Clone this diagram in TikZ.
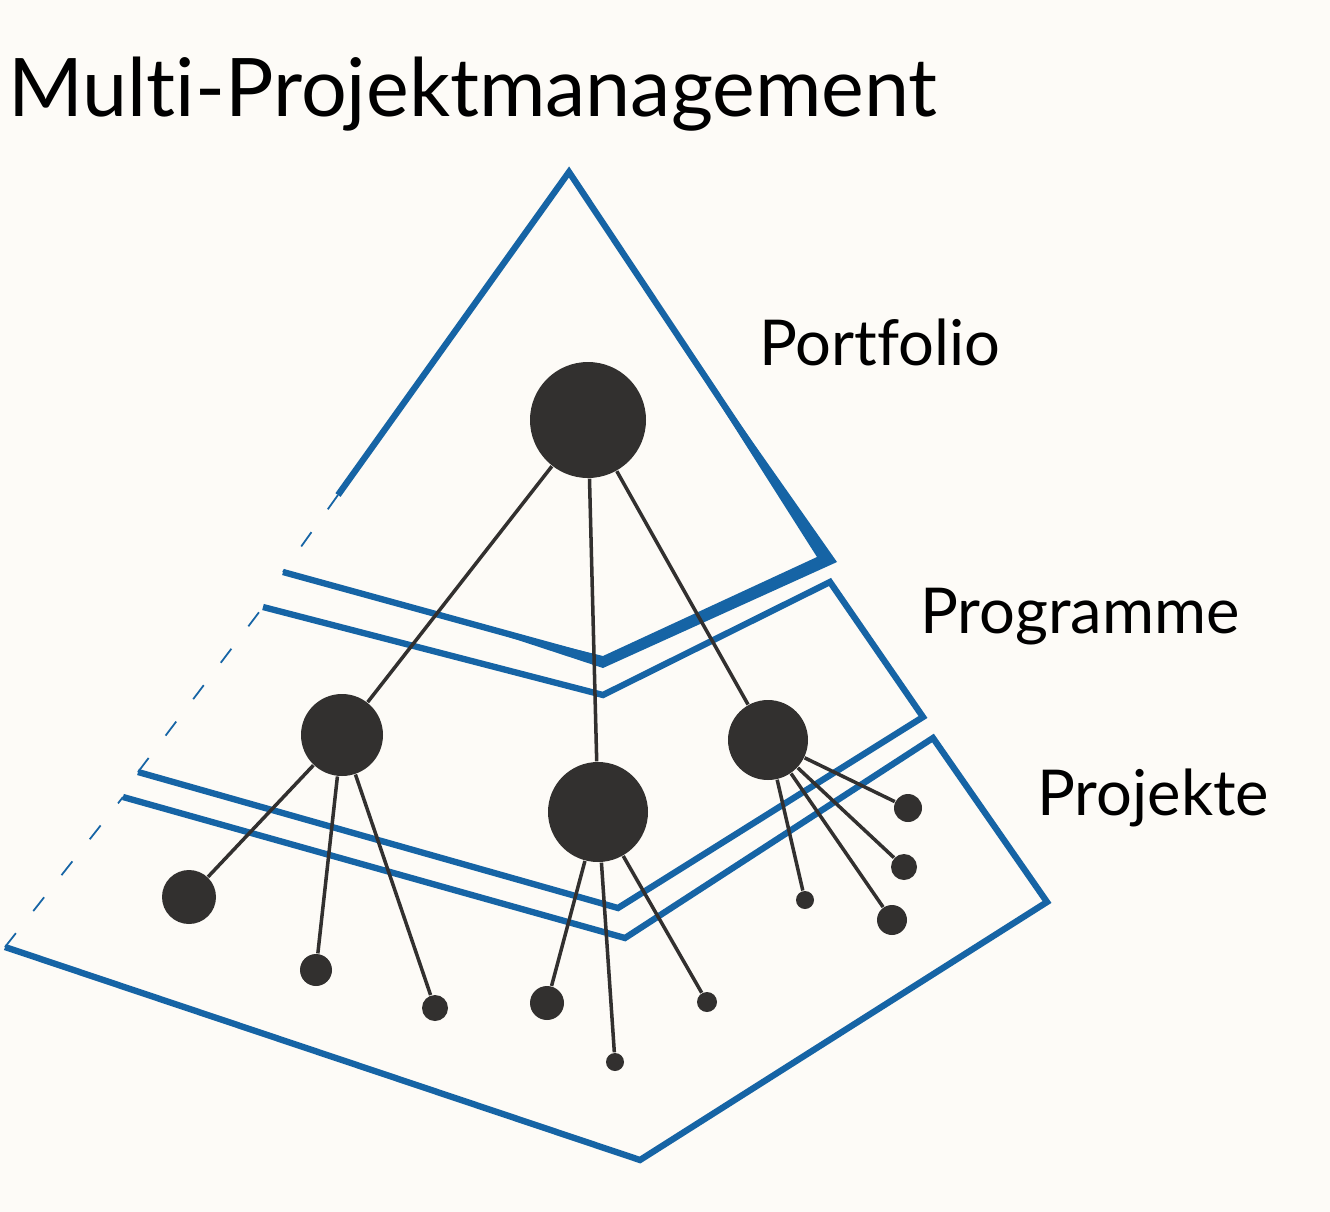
\documentclass[tikz,border=0pt]{standalone}
\usepackage{fontspec}
\setmainfont[Ligatures=NoCommon]{Lato}
\definecolor{paper}{RGB}{253,251,247}
\definecolor{layerblue}{RGB}{22,100,165}
\definecolor{ink}{RGB}{50,48,47}
\tikzstyle{layer}=[layerblue, line width=1.8pt, line join=miter]
\tikzstyle{layer band}=[fill=layerblue]
\tikzstyle{faint}=[layerblue, line width=0.5pt, dash pattern=on 5pt off 8pt]
\tikzstyle{unit}=[circle, fill=ink, inner sep=0pt]
\tikzstyle{link}=[ink, line width=1pt]
\tikzstyle{level}=[anchor=base west, font=\fontsize{18}{20}\selectfont]

\begin{document}
\begin{tikzpicture}[y=-1cm]
    \useasboundingbox[fill=paper] (0,0) rectangle (13.3,12.12);

    % Title
    \draw (-0.04,1.16) node[anchor=base west, font=\fontsize{23}{27}\selectfont] (title) {Multi-Projektmanagement};

    % Layers
    \fill[layer band] (6.60,3.10) -- (8.37,5.62) -- (6.03,6.68) -- (4.60,6.21) -- (6.03,6.56) -- (8.17,5.57) -- cycle;
    \draw[layer] (3.38,4.95) -- (5.69,1.72) -- (8.27,5.60) -- (6.03,6.60) -- (2.83,5.72);
    \draw[faint] (3.38,4.95) -- (2.83,5.72);

    \draw[layer] (2.63,6.07) -- (6.03,6.95) -- (8.30,5.82) -- (9.23,7.17) -- (6.18,9.08) -- (1.38,7.72);
    \draw[faint] (1.38,7.72) -- (2.63,6.07);

    \draw[layer] (1.23,7.97) -- (6.25,9.38) -- (9.33,7.38) -- (10.47,9.02) -- (6.40,11.60) -- (0.05,9.47);
    \draw[faint] (0.05,9.47) -- (1.23,7.97);

    % Level names
    \draw (7.47,3.65) node[level] (portfolio) {Portfolio};
    \draw (9.08,6.33) node[level] (programme) {Programme};
    \draw (10.25,8.15) node[level] (projekte) {Projekte};

    % Units
    \draw (5.88,4.20) node[unit, minimum size=11.6mm] (pf) {};
    \draw (3.42,7.35) node[unit, minimum size=8.2mm] (pgL) {};
    \draw (5.98,8.12) node[unit, minimum size=10mm] (pgM) {};
    \draw (7.68,7.40) node[unit, minimum size=8mm] (pgR) {};
    \draw (1.89,8.97) node[unit, minimum size=5.4mm] (pjL1) {};
    \draw (3.16,9.70) node[unit, minimum size=3.2mm] (pjL2) {};
    \draw (4.35,10.08) node[unit, minimum size=2.6mm] (pjL3) {};
    \draw (5.47,10.03) node[unit, minimum size=3.4mm] (pjM1) {};
    \draw (6.15,10.62) node[unit, minimum size=1.8mm] (pjM2) {};
    \draw (7.07,10.02) node[unit, minimum size=2mm] (pjM3) {};
    \draw (8.05,9.00) node[unit, minimum size=1.8mm] (pjR1) {};
    \draw (8.92,9.20) node[unit, minimum size=3mm] (pjR2) {};
    \draw (9.04,8.67) node[unit, minimum size=2.6mm] (pjR3) {};
    \draw (9.08,8.08) node[unit, minimum size=2.8mm] (pjR4) {};

    % Links
    \draw[link] (pf) -- (pgL);
    \draw[link] (pf) -- (pgM);
    \draw[link] (pf) -- (pgR);
    \draw[link] (pgL) -- (pjL1);
    \draw[link] (pgL) -- (pjL2);
    \draw[link] (pgL) -- (pjL3);
    \draw[link] (pgM) -- (pjM1);
    \draw[link] (pgM) -- (pjM2);
    \draw[link] (pgM) -- (pjM3);
    \draw[link] (pgR) -- (pjR1);
    \draw[link] (pgR) -- (pjR2);
    \draw[link] (pgR) -- (pjR3);
    \draw[link] (pgR) -- (pjR4);

\end{tikzpicture}
\end{document}
